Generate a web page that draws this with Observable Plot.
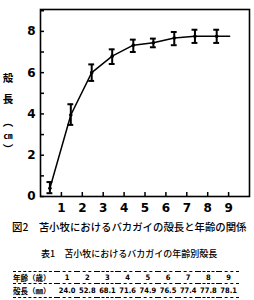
<!DOCTYPE html>
<html>
<head>
<meta charset="utf-8">
<script src="https://cdn.jsdelivr.net/npm/d3@7"></script>
<script src="https://cdn.jsdelivr.net/npm/@observablehq/plot@0.6"></script>
<style>
  html, body { margin: 0; padding: 0; background: #fff; }
  body { width: 254px; height: 300px; overflow: hidden; font-family: "Noto Sans CJK JP", "DejaVu Sans", sans-serif; color: #000; }
  #chart svg { display: block; }
  .cap { font-size: 10.4px; line-height: 14px; white-space: pre; margin: 5px 0 0 12px; font-weight: 500; }
  .ttl { font-size: 9px; line-height: 14px; white-space: pre; margin: 13px 0 0 41px; font-weight: 500; }
  table { border-collapse: collapse; table-layout: fixed; margin: 10px 0 0 13px; font-size: 7.5px; font-weight: bold; font-family: "DejaVu Sans Condensed", "DejaVu Sans", sans-serif; }
  td { padding: 0; text-align: center; white-space: nowrap; overflow: visible; }
  td.h { width: 44px; font-family: "Noto Sans CJK JP", sans-serif; text-align: left; font-size: 7.5px; }
  td.v { width: 20.2px; }
  tr.r1 td { height: 11px; border-top: 1.5px dashed #000; border-bottom: 1px dashed #000; }
  tr.r2 td { height: 13px; border-bottom: 1px dashed #000; }
</style>
</head>
<body>
<div id="chart"></div>
<script>
// ---- data ----
const ages    = [0.45, 1.45, 2.45, 3.43, 4.44, 5.4, 6.4, 7.39, 8.43];
const means   = [0.40, 3.95, 6.00, 6.80, 7.33, 7.45, 7.68, 7.76, 7.76];
const lows    = [0.16, 3.47, 5.60, 6.42, 7.00, 7.23, 7.33, 7.44, 7.44];
const highs   = [0.70, 4.47, 6.40, 7.13, 7.60, 7.65, 7.97, 8.08, 8.08];
const curveTailAge = 9.05;
const curveTailLength = 7.76;
const xTicks = [1, 2, 3, 4, 5, 6, 7, 8, 9];
const yTicks = [0, 1, 2, 3, 4, 5, 6, 7, 8, 9];
const yLabels = [0, 2, 4, 6, 8];
const yTitleChars = ["殻", "長", "︵", "㎝", "︶"];
const captionText = "図2　苫小牧におけるバカガイの殻長と年齢の関係";
const tableTitle = "表1　苫小牧におけるバカガイの年齢別殻長";
const tableAgeHeader = "年齢（歳）";
const tableLenHeader = "殻長（㎜）";
const tableAges = ["1", "2", "3", "4", "5", "6", "7", "8", "9"];
const tableLengths = ["24.0", "52.8", "68.1", "71.6", "74.9", "76.5", "77.4", "77.8", "78.1"];

const points = ages.map((a, i) => ({x: a, y: means[i], lo: lows[i], hi: highs[i]}));
const curve = [...points, {x: curveTailAge, y: curveTailLength}];

const chart = Plot.plot({
  width: 254,
  height: 215,
  marginLeft: 40,
  marginRight: 5,
  marginTop: 9,
  marginBottom: 19,
  style: {background: "#fff", fontFamily: "DejaVu Sans, sans-serif", fontSize: "11px", fontWeight: "bold", color: "#000"},
  x: {domain: [0, 10], label: null},
  y: {domain: [0, 9.06], label: null},
  marks: [
    Plot.frame({stroke: "#000", strokeWidth: 1.6}),
    Plot.axisY({ticks: yTicks, tickSize: -4, tickFormat: () => "", strokeWidth: 1.5, label: null}),
    Plot.axisY({ticks: yLabels, tickSize: 0, tickPadding: 5, fontSize: 12, fontWeight: "bold", label: null}),
    Plot.axisX({ticks: xTicks, tickSize: -4, tickFormat: () => "", strokeWidth: 1.5, label: null}),
    Plot.axisX({ticks: xTicks, tickSize: 0, tickPadding: 7, fontSize: 12, fontWeight: "bold", label: null}),
    Plot.line(curve, {x: "x", y: "y", stroke: "#000", strokeWidth: 1.5}),
    Plot.ruleX(points, {x: "x", y1: "lo", y2: "hi", stroke: "#000", strokeWidth: 2}),
    Plot.ruleY(points, {y: "lo", x1: d => d.x - 0.14, x2: d => d.x + 0.14, stroke: "#000", strokeWidth: 2}),
    Plot.ruleY(points, {y: "hi", x1: d => d.x - 0.14, x2: d => d.x + 0.14, stroke: "#000", strokeWidth: 2}),
    Plot.dot(points, {x: "x", y: "y", r: 1.8, fill: "#000"})
  ]
});
document.getElementById("chart").appendChild(chart);

// vertical y-axis title
const yTitlePos = [77, 98, 121, 135, 148];
const svg = d3.select(chart);
yTitleChars.forEach((c, i) => {
  svg.append("text")
    .attr("x", 8).attr("y", yTitlePos[i])
    .attr("text-anchor", "middle").attr("dominant-baseline", "central")
    .attr("font-family", "Noto Sans CJK JP").attr("font-size", c === "㎝" ? 9 : 10.5)
    .attr("fill", "#000")
    .text(c);
});

// caption + table
const body = d3.select("body");
body.append("div").attr("class", "cap").text(captionText);
body.append("div").attr("class", "ttl").text(tableTitle);
const table = body.append("table");
const r1 = table.append("tr").attr("class", "r1");
r1.append("td").attr("class", "h").text(tableAgeHeader);
tableAges.forEach(a => r1.append("td").attr("class", "v").text(a));
const r2 = table.append("tr").attr("class", "r2");
r2.append("td").attr("class", "h").text(tableLenHeader);
tableLengths.forEach(v => r2.append("td").attr("class", "v").text(v));
</script>
</body>
</html>
